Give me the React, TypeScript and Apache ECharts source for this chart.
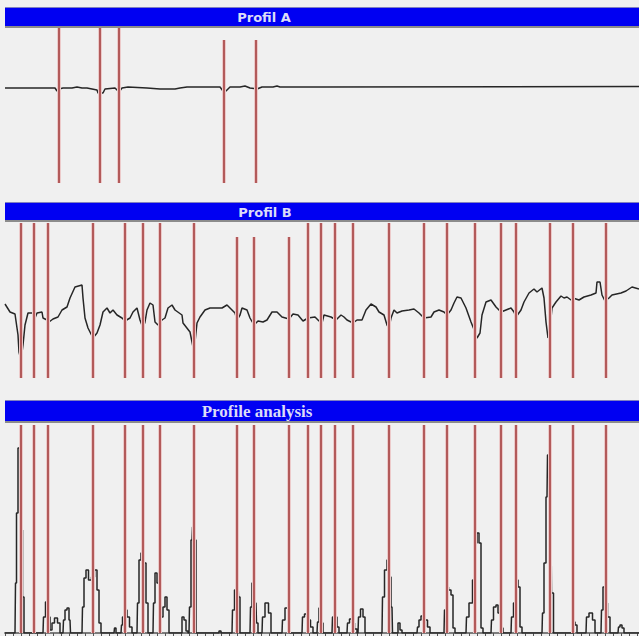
import React, { useEffect, useRef } from "react";
import * as echarts from "echarts";

// Profile positions (horizontal sample index) and signal values
const profilA: [number, number][] = [
  [5, 95], [55, 95], [57, 92], [59, 94], [63, 95], [72, 95], [77, 96], [82, 95], [87, 95],
  [97, 93], [98, 90], [103, 90], [105, 94], [115, 95], [119, 91], [122, 95], [128, 96],
  [147, 95], [160, 94], [175, 94], [180, 95], [187, 96], [220, 96], [223, 92], [226, 92],
  [230, 96], [240, 96], [245, 97], [250, 95], [257, 94], [262, 96], [273, 96], [277, 97],
  [280, 96], [320, 96], [639, 96.5],
];

const profilB: [number, number][] = [
  [5, 74], [10, 66], [15, 64], [18, 43], [19, 26], [21, 18], [23, 33], [25, 53], [28, 65],
  [33, 65], [35, 60], [37, 65], [42, 66], [43, 60], [47, 58], [49, 56], [53, 59], [58, 61],
  [62, 68], [67, 71], [70, 80], [75, 91], [82, 93], [83, 80], [85, 60], [88, 50], [93, 40],
  [97, 45], [100, 53], [103, 66], [107, 70], [110, 65], [113, 68], [117, 63], [122, 60],
  [125, 57], [130, 60], [133, 66], [137, 70], [140, 58], [143, 50], [145, 56], [147, 68],
  [150, 75], [153, 73], [155, 56], [158, 53], [162, 58], [165, 60], [168, 70], [172, 73],
  [175, 68], [182, 63], [183, 55], [190, 46], [193, 31], [195, 36], [197, 55], [200, 61],
  [205, 68], [210, 70], [222, 70], [227, 73], [230, 70], [235, 65], [237, 58], [240, 63],
  [242, 70], [247, 68], [250, 60], [254, 53], [258, 57], [263, 56], [267, 58], [272, 66],
  [277, 66], [282, 61], [289, 59], [293, 64], [298, 63], [303, 57], [308, 60], [315, 61],
  [319, 57], [322, 55], [324, 63], [331, 61], [336, 58], [341, 63], [344, 61], [347, 58],
  [353, 55], [357, 58], [362, 58], [366, 68], [371, 74], [376, 71], [379, 66], [384, 63],
  [387, 53], [389, 50], [391, 60], [394, 68], [397, 65], [402, 67], [409, 68], [414, 69],
  [419, 65], [424, 60], [431, 61], [434, 66], [439, 68], [444, 66], [447, 63], [451, 68],
  [454, 75], [457, 81], [461, 80], [466, 70], [471, 56], [475, 46], [477, 40], [480, 45],
  [482, 63], [486, 76], [491, 78], [496, 71], [501, 66], [506, 68], [511, 70], [514, 66],
  [516, 61], [521, 68], [524, 76], [529, 85], [534, 89], [537, 86], [542, 90], [544, 80],
  [546, 56], [548, 40], [550, 50], [552, 70], [556, 76], [561, 82], [564, 80], [567, 81],
  [571, 78], [573, 80], [579, 78], [584, 81], [591, 83], [596, 85], [597, 96], [600, 96],
  [602, 83], [605, 77], [609, 80], [612, 83], [621, 85], [626, 87], [632, 91], [639, 89],
];

const analysis: [number, number][] = [
  [5, 0], [15, 0], [16, 50], [17, 120], [19, 185], [21, 176], [22, 103], [23, 36], [25, 0],
  [33, 0], [34, 6], [36, 0], [43, 0], [44, 16], [47, 31], [49, 16], [51, 3], [53, 10],
  [56, 15], [59, 10], [61, 0], [63, 0], [64, 13], [66, 23], [68, 25], [70, 13], [71, 0],
  [82, 0], [83, 26], [85, 55], [87, 63], [90, 53], [93, 56], [96, 63], [98, 43], [100, 10],
  [102, 0], [114, 0], [115, 5], [117, 0], [121, 0], [122, 8], [123, 16], [126, 23], [128, 16],
  [131, 6], [133, 0], [137, 0], [138, 30], [140, 73], [142, 80], [143, 88], [145, 70],
  [147, 30], [149, 0], [153, 0], [154, 30], [156, 60], [158, 50], [160, 13], [162, 16],
  [164, 26], [166, 36], [168, 23], [170, 0], [181, 0], [183, 16], [185, 13], [187, 2],
  [189, 0], [190, 26], [192, 93], [193, 106], [195, 93], [197, 0], [218, 0], [220, 2],
  [222, 0], [232, 0], [233, 23], [236, 43], [238, 50], [239, 36], [241, 0], [250, 0],
  [251, 26], [253, 50], [256, 30], [257, 10], [259, 0], [262, 0], [263, 16], [267, 30],
  [270, 20], [272, 0], [282, 0], [283, 13], [287, 25], [289, 16], [291, 0], [302, 0],
  [303, 16], [306, 19], [309, 13], [312, 6], [314, 0], [317, 0], [318, 11], [320, 25],
  [322, 10], [324, 0], [332, 0], [333, 16], [336, 16], [338, 6], [340, 0], [347, 0],
  [348, 10], [351, 14], [353, 10], [356, 4], [358, 0], [359, 16], [362, 24], [364, 16],
  [366, 0], [382, 0], [383, 36], [386, 63], [388, 73], [390, 56], [392, 26], [393, 0],
  [397, 0], [399, 10], [401, 3], [403, 0], [417, 0], [418, 6], [420, 13], [422, 17],
  [426, 13], [429, 6], [431, 0], [444, 0], [445, 23], [447, 46], [450, 43], [452, 38],
  [454, 5], [456, 0], [466, 0], [467, 16], [471, 30], [474, 53], [476, 90], [478, 100],
  [480, 90], [482, 5], [484, 0], [491, 0], [492, 13], [495, 26], [497, 28], [499, 20],
  [502, 5], [504, 0], [511, 0], [512, 16], [515, 30], [517, 53], [519, 46], [521, 6],
  [523, 0], [542, 0], [543, 20], [545, 70], [547, 136], [548, 178], [549, 168], [551, 103],
  [552, 40], [555, 0], [573, 0], [574, 11], [576, 8], [578, 0], [586, 0], [587, 16],
  [591, 20], [594, 13], [596, 0], [601, 0], [602, 23], [604, 46], [606, 30], [609, 16],
  [611, 0], [618, 0], [619, 6], [621, 8], [623, 5], [625, 0], [639, 0],
];

// Cut positions (red markers)
const cutsA = [59, 100, 119];
const cutsAShort = [224, 256];
const cutsB = [21, 34, 48, 93, 125, 143, 160, 194, 308, 321, 335, 353, 389, 424, 447, 475, 501, 516, 550, 573, 606];
const cutsBShort = [237, 254, 289];
const cutsAnalysis = [21, 34, 48, 93, 125, 143, 160, 194, 237, 254, 289, 308, 321, 335, 353, 389, 424, 447, 475, 501, 516, 550, 573, 606];

const titles = ["Profil A", "Profil B", "Profile analysis"];

export default function App() {
  const ref = useRef<HTMLDivElement>(null);
  useEffect(() => {
    if (!ref.current) return;
    const chart = echarts.init(ref.current, undefined, { renderer: "svg" });
    const H = [155, 155, 208];
    const tops = [28, 223, 425];
    const red = "#b25a5a";
    const mk = (xs: number[], from: number, to: number) =>
      xs.map((x) => [{ coord: [x, from] }, { coord: [x, to] }]);
    const markLine = (data: any[], color: string, width: number) => ({
      silent: true,
      symbol: ["none", "none"],
      label: { show: false },
      lineStyle: { color, width, type: "solid" },
      emphasis: { disabled: true },
      data,
    });
    const bar = (y: number, h: number, text: string, cx: number, font: string) => [
      { type: "rect", shape: { x: 5, y: y - 1, width: 634, height: 1 }, style: { fill: "#8080c0" } },
      { type: "rect", shape: { x: 5, y, width: 634, height: h }, style: { fill: "#0000f2" } },
      { type: "rect", shape: { x: 5, y: y + h, width: 634, height: 2 }, style: { fill: "#8c8c8c" } },
      {
        type: "text",
        x: cx,
        y: y + h / 2 + 0.5,
        style: { text, fill: "#dcdcf8", font, align: "center", verticalAlign: "middle" },
      },
    ];
    const redSeries = (axis: number, data: any[]) => [
      {
        type: "line",
        xAxisIndex: axis,
        yAxisIndex: axis,
        data: [],
        markLine: markLine(data, "#eccaca", 4),
        z: 1,
      },
      {
        type: "line",
        xAxisIndex: axis,
        yAxisIndex: axis,
        data: [],
        markLine: markLine(data, red, 2),
        z: 2,
      },
    ];
    const option: any = {
      animation: false,
      backgroundColor: "#f0f0f0",
      grid: tops.map((t, i) => ({ left: 5, right: 0, top: t, height: H[i] })),
      xAxis: [0, 1, 2].map((i) => ({
        type: "value",
        gridIndex: i,
        min: 5,
        max: 639,
        interval: 8,
        show: i === 2,
        axisLine: { show: i === 2, onZero: false, lineStyle: { color: "#7c7c7c", width: 2 } },
        axisTick: { show: i === 2, length: 3, lineStyle: { color: "#555", width: 1 } },
        axisLabel: { show: false },
        splitLine: { show: false },
      })),
      yAxis: [0, 1, 2].map((i) => ({
        type: "value",
        gridIndex: i,
        min: 0,
        max: H[i],
        show: false,
        splitLine: { show: false },
      })),
      graphic: [
        ...bar(8, 18, titles[0], 264, 'bold 13px "DejaVu Sans"'),
        ...bar(203, 17, titles[1], 265, 'bold 13px "DejaVu Sans"'),
        ...bar(401, 20, titles[2], 257, 'bold 17px "Liberation Serif"'),
      ],
      series: [
        {
          type: "line",
          xAxisIndex: 0,
          yAxisIndex: 0,
          data: profilA,
          showSymbol: false,
          lineStyle: { color: "#262626", width: 1.5 },
          z: 3,
        },
        ...redSeries(0, [...mk(cutsA, 0, 155), ...mk(cutsAShort, 0, 143)]),
        {
          type: "line",
          xAxisIndex: 1,
          yAxisIndex: 1,
          data: profilB,
          showSymbol: false,
          lineStyle: { color: "#262626", width: 1.5 },
          z: 3,
        },
        ...redSeries(1, [...mk(cutsB, 0, 155), ...mk(cutsBShort, 0, 141)]),
        {
          type: "line",
          xAxisIndex: 2,
          yAxisIndex: 2,
          data: analysis,
          step: "middle",
          showSymbol: false,
          lineStyle: { color: "#262626", width: 1.5 },
          z: 3,
        },
        ...redSeries(2, mk(cutsAnalysis, 0, 208)),
      ],
    };
    chart.setOption(option);
    return () => chart.dispose();
  }, []);
  return (
    <div
      ref={ref}
      style={{ position: "fixed", left: 0, top: 0, width: 639, height: 636 }}
    />
  );
}
